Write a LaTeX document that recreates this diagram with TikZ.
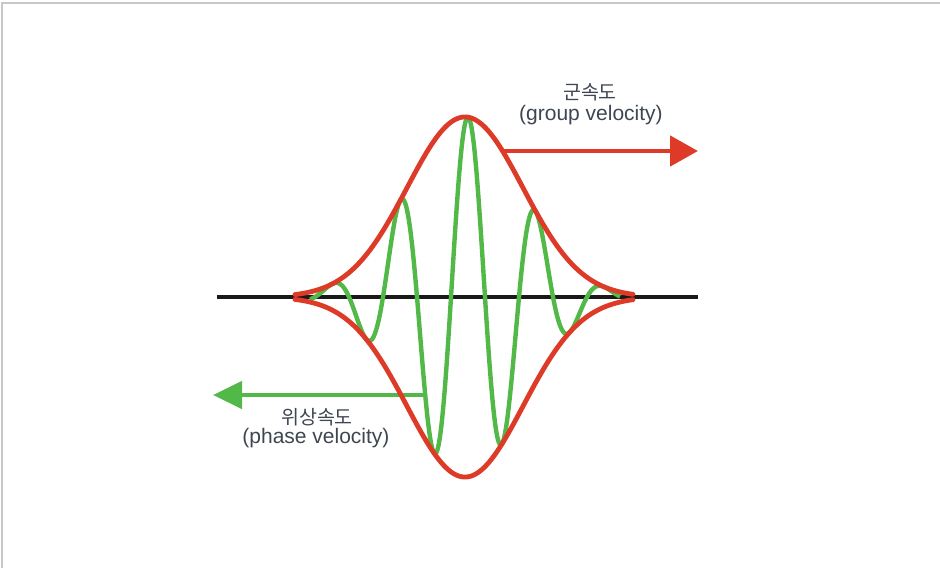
\documentclass[tikz,border=0pt]{standalone}
\usepackage{fontspec}
\setmainfont{Liberation Sans}
\newfontfamily\kr{Noto Sans CJK KR}
\usetikzlibrary{arrows.meta}
\definecolor{envred}{RGB}{221,58,40}
\definecolor{wavegreen}{RGB}{82,184,72}
\definecolor{txtgray}{RGB}{62,70,82}
\definecolor{framegray}{RGB}{200,200,200}
\tikzset{
  envelope/.style={envred, line width=4.8pt, line join=round, line cap=round},
  carrier/.style={wavegreen, line width=4.4pt, line join=round},
  axisline/.style={black!90, line width=3.5pt},
  lbl/.style={text=txtgray, inner sep=0pt, align=center},
  krlbl/.style={lbl, font=\kr\fontsize{19.5}{22}\selectfont},
  enlbl/.style={lbl, font=\fontsize{21}{24}\selectfont},
}
\begin{document}
\begin{tikzpicture}[x=1pt,y=-1pt]
\useasboundingbox (0,0) rectangle (940,568);
% frame
\coordinate (fTL) at (2,3);
\coordinate (fTR) at (940,3);
\coordinate (fBL) at (2,568);
\draw[framegray, line width=1.2pt] (fBL) -- (fTL) -- (fTR);
% axis
\coordinate (axL) at (217,297);
\coordinate (axR) at (698,297);
\draw[axisline] (axL) -- (axR);
% carrier
\draw[carrier] plot[domain=310:620, samples=400, smooth]
  (\x, {297 - 180*exp(-0.5*((\x-465)/58)^2)*cos(5.2941*(\x-468))});
% phase velocity arrow
\coordinate (pS) at (424,395);
\coordinate (pE) at (213,395);
\draw[wavegreen, line width=4.4pt, -{Triangle[length=29pt,width=27pt]}] (pS) -- (pE);
% envelope
\draw[envelope] plot[domain=295:633, samples=300, smooth]
  (\x, {297 - 180*exp(-0.5*((\x-465)/58)^2)});
\draw[envelope] plot[domain=295:633, samples=300, smooth]
  (\x, {297 + 180*exp(-0.5*((\x-465)/58)^2)});
% group velocity arrow
\coordinate (gS) at (503,151);
\coordinate (gE) at (698,151);
\draw[envred, line width=4.8pt, -{Triangle[length=28pt,width=30pt]}] (gS) -- (gE);
% labels
\node[krlbl] (gkr) at (590,92) {군속도};
\node[enlbl] (gen) at (591,115) {(group velocity)};
\node[krlbl] (pkr) at (317,417) {위상속도};
\node[enlbl] (pen) at (316,438) {(phase velocity)};
\end{tikzpicture}
\end{document}
